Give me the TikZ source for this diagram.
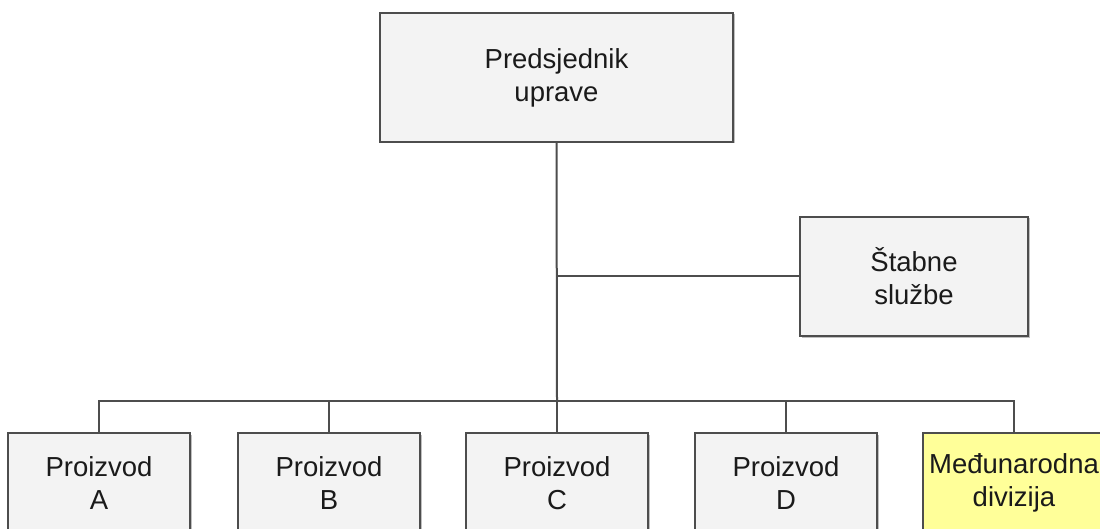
\documentclass[tikz,border=0pt]{standalone}
\usepackage{fontspec}
\setmainfont{Liberation Sans}
\usetikzlibrary{shadows}
\definecolor{boxfill}{HTML}{F3F3F3}
\definecolor{boxline}{HTML}{4D4D4D}
\definecolor{yellowfill}{HTML}{FFFF99}
\definecolor{txt}{HTML}{1A1A1A}
\tikzset{
  orgbox/.style={draw=boxline, line width=2pt, fill=boxfill, align=center,
    text=txt, font=\fontsize{27.5}{33}\selectfont, inner sep=0pt,
    drop shadow={shadow xshift=1.5pt, shadow yshift=-1.5pt, fill=black, opacity=0.25}},
  bottombox/.style={orgbox, minimum width=182pt, minimum height=100pt},
  conn/.style={draw=boxline, line width=2pt}
}
\begin{document}
\begin{tikzpicture}[x=1pt,y=-1pt]
\useasboundingbox (0,0) rectangle (1100,529);
\clip (0,0) rectangle (1100,529);
\fill[white] (0,0) rectangle (1100,529);
\node[orgbox, minimum width=353pt, minimum height=129pt] (top) at (556.5,77.5) {Predsjednik\\uprave};
\node[orgbox, minimum width=228pt, minimum height=119pt] (stab) at (914,276.5) {Štabne\\službe};
\node[bottombox] (pa) at (99,483) {Proizvod\\A};
\node[bottombox] (pb) at (329,483) {Proizvod\\B};
\node[bottombox] (pc) at (557,483) {Proizvod\\C};
\node[bottombox] (pd) at (786,483) {Proizvod\\D};
\node[bottombox, fill=yellowfill] (pe) at (1014,483) {Međunarodna\\divizija};
\coordinate (bus) at (557,401);
\draw[conn] (top.south) -- (bus);
\draw[conn] (stab.west) -- (stab.west -| top.south);
\draw[conn] (pa.north) |- (bus);
\draw[conn] (pb.north) |- (bus);
\draw[conn] (pc.north) -- (bus);
\draw[conn] (pd.north) |- (bus);
\draw[conn] (pe.north) |- (bus);
\end{tikzpicture}
\end{document}
